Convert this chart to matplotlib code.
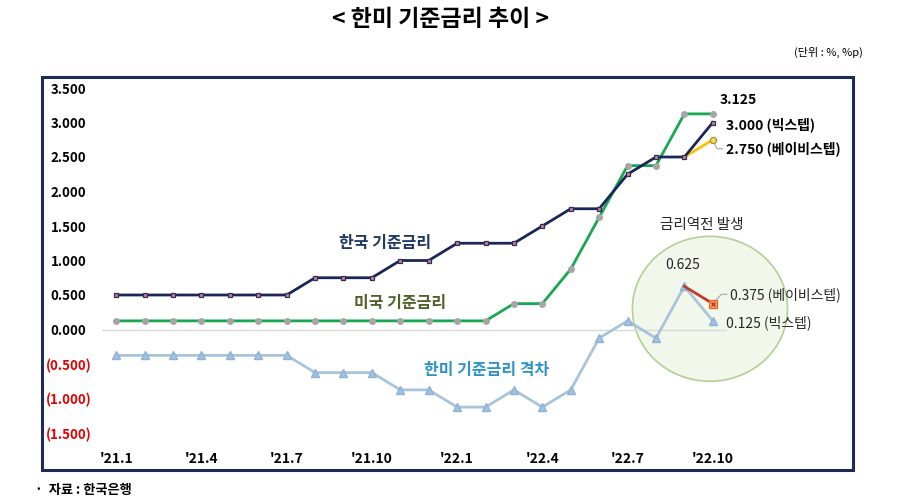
import matplotlib
matplotlib.use("Agg")
import matplotlib.pyplot as plt
from matplotlib.patches import Rectangle, Ellipse

plt.rcParams['font.family'] = ['Noto Sans CJK KR', 'DejaVu Sans']

# 월별 (21.1 ~ 22.10)
months = ["'21.1", "'21.2", "'21.3", "'21.4", "'21.5", "'21.6", "'21.7", "'21.8",
          "'21.9", "'21.10", "'21.11", "'21.12", "'22.1", "'22.2", "'22.3", "'22.4",
          "'22.5", "'22.6", "'22.7", "'22.8", "'22.9", "'22.10"]
korea = [0.50, 0.50, 0.50, 0.50, 0.50, 0.50, 0.50, 0.75, 0.75, 0.75, 1.00,
         1.00, 1.25, 1.25, 1.25, 1.50, 1.75, 1.75, 2.25, 2.50, 2.50, 3.00]
us = [0.125, 0.125, 0.125, 0.125, 0.125, 0.125, 0.125, 0.125, 0.125, 0.125, 0.125,
      0.125, 0.125, 0.125, 0.375, 0.375, 0.875, 1.625, 2.375, 2.375, 3.125, 3.125]
gap = [-0.375, -0.375, -0.375, -0.375, -0.375, -0.375, -0.375, -0.625, -0.625, -0.625, -0.875,
       -0.875, -1.125, -1.125, -0.875, -1.125, -0.875, -0.125, 0.125, -0.125, 0.625, 0.125]
# 베이비스텝 시나리오 (22.9 -> 22.10)
korea_baby = [2.50, 2.75]
gap_baby = [0.625, 0.375]

yticks = [3.5, 3.0, 2.5, 2.0, 1.5, 1.0, 0.5, 0.0, -0.5, -1.0, -1.5]

navy = '#1a2657'
green = '#17a852'
lblue = '#a9c4da'

fig = plt.figure(figsize=(9, 5.03), dpi=100)
ax = fig.add_axes([102 / 900, 1 - 433 / 503, 625 / 900, 345 / 503])

x = list(range(len(months)))

# 금리역전 원
ell = Ellipse((20.9, 0.30), 5.46, 2.10, facecolor='#f2f7ec', edgecolor='#b3cf96',
              lw=1.2, zorder=1, clip_on=False)
ax.add_patch(ell)

ax.axhline(0, color='#d9d9d9', lw=1, zorder=2)

ax.plot(x, korea, color=navy, lw=2, marker='s', ms=3.5, mfc='#b48a9c', mec='#3a2a50',
        mew=0.9, zorder=5)
ax.plot(x, us, color=green, lw=2, marker='o', ms=4, mfc='#a6a6a6', mec='#a6a6a6',
        zorder=4)
ax.plot(x, gap, color=lblue, lw=2, marker='^', ms=5.5, mfc='#9dc3e6', mec='#8fb2d4',
        zorder=3)
ax.plot([20, 21], korea_baby, color='#ffc000', lw=2, zorder=3)
ax.plot([21], [korea_baby[1]], marker='o', ms=4.5, mfc='#f5d45a', mec='#a08a30', mew=0.8,
        zorder=6)
ax.plot([20, 21], gap_baby, color='#c0392b', lw=2, zorder=3)
ax.plot([21], [gap_baby[1]], marker='s', ms=5.5, mfc='#f4a460', mec='#e06020', mew=0.8,
        zorder=6)
ax.plot([21], [gap_baby[1]], marker='x', ms=3.5, mec='#d03020', mew=1, zorder=7)

ax.set_xlim(-0.5, 21.5)
ax.set_ylim(-1.5, 3.5)
for s in ax.spines.values():
    s.set_visible(False)
ax.set_xticks(x[::3])
ax.set_xticklabels(months[::3], fontsize=10, fontweight='bold')
ax.set_yticks(yticks)
ylabels = []
for v in yticks:
    if v < 0:
        ylabels.append('({:.3f})'.format(-v))
    else:
        ylabels.append('{:.3f}'.format(v))
ax.set_yticklabels(ylabels, fontsize=9.5, fontweight='bold', ha='center')
for t, v in zip(ax.get_yticklabels(), yticks):
    t.set_color('#e00000' if v < 0 else '#000000')
ax.tick_params(axis='both', length=0)
ax.tick_params(axis='y', pad=24)
ax.tick_params(axis='x', pad=14)

# 라벨
ax.text(9.46, 1.25, '한국 기준금리', color='#1f3864', fontsize=11.5, fontweight='bold',
        ha='center', va='center')
ax.text(10.0, 0.38, '미국 기준금리', color='#4f6228', fontsize=11.5, fontweight='bold',
        ha='center', va='center')
ax.text(13.05, -0.58, '한미 기준금리 격차', color='#2f93c8', fontsize=11.5, fontweight='bold',
        ha='center', va='center')
ax.text(20.62, 1.52, '금리역전 발생', color='#262626', fontsize=10.5,
        ha='center', va='center')

ax.text(21.25, 3.32, '3.125', fontsize=10, fontweight='bold', va='center')
ax.text(21.46, 2.97, '3.000 (빅스텝)', fontsize=10, fontweight='bold', va='center')
ax.text(21.46, 2.62, '2.750 (베이비스텝)', fontsize=10, fontweight='bold', va='center')
ax.plot([21.05, 21.15, 21.35], [2.70, 2.62, 2.62], color='#a6a6a6', lw=0.8, clip_on=False)

ax.text(19.95, 0.93, '0.625', fontsize=10, color='#262626', ha='center', va='center')
ax.text(21.6, 0.51, '0.375 (베이비스텝)', fontsize=10, color='#262626', va='center')
ax.plot([21.1, 21.3, 21.5], [0.42, 0.51, 0.51], color='#a6a6a6', lw=0.8, clip_on=False)
ax.text(21.46, 0.10, '0.125 (빅스텝)', fontsize=10, color='#262626', va='center')

# 외곽 테두리
fig.patches.append(Rectangle((42 / 900, 1 - 470 / 503), 811 / 900, 393 / 503,
                             transform=fig.transFigure, fill=False, edgecolor='#1f2a55',
                             lw=2.2, zorder=0))

fig.text(440 / 900, 1 - 20 / 503, '< 한미 기준금리 추이 >', fontsize=16.5, fontweight='bold',
         ha='center', va='center')
fig.text(863 / 900, 1 - 52 / 503, '(단위 : %, %p)', fontsize=8, ha='right', va='center')
fig.text(35 / 900, 1 - 490 / 503, '·  자료 : 한국은행', fontsize=9.5, fontweight='bold',
         ha='left', va='center')

fig.savefig('out.png', dpi=100)
